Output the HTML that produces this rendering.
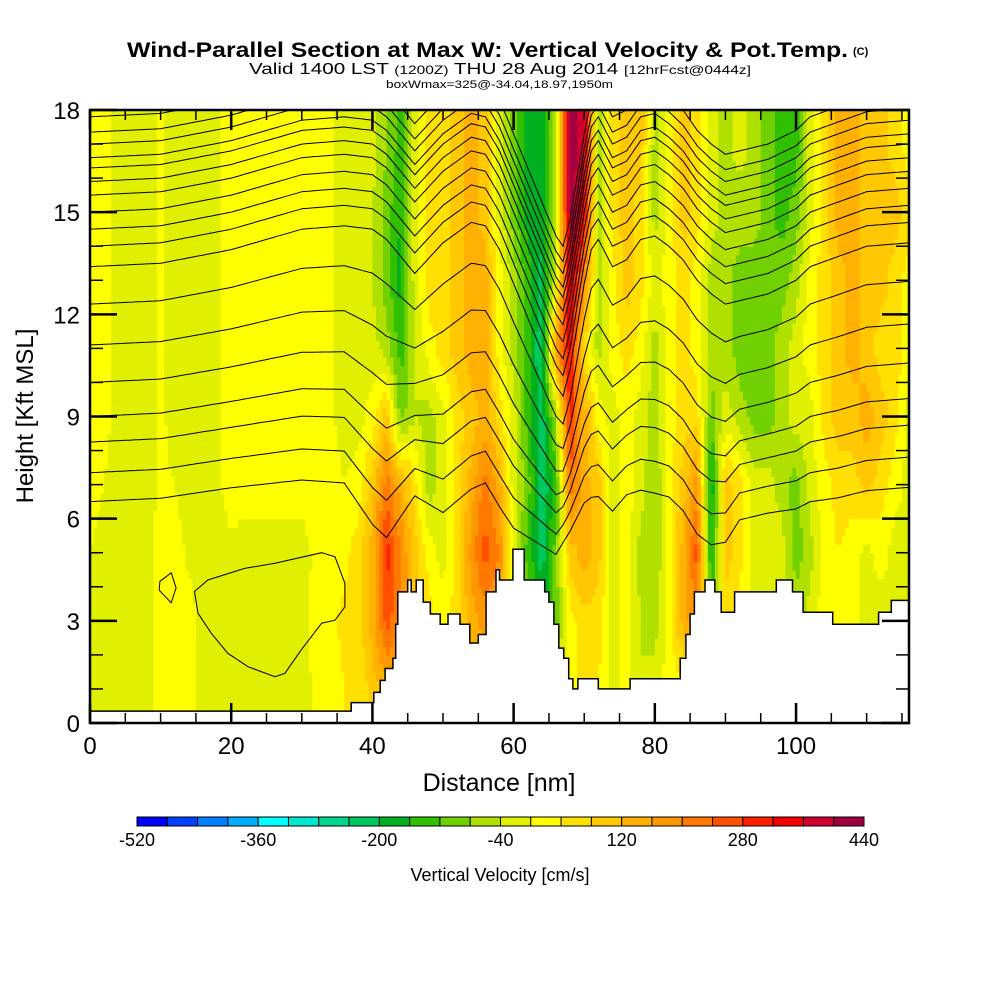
<!DOCTYPE html>
<html><head><meta charset="utf-8"><style>
html,body{margin:0;padding:0;background:#fff;}
svg{display:block;font-family:"Liberation Sans",sans-serif;}
</style></head><body>
<svg id="chart" width="1000" height="1000" viewBox="0 0 1000 1000" xmlns="http://www.w3.org/2000/svg">
<rect width="1000" height="1000" fill="#fff"/>
<g>
<text x="127" y="57" font-size="21" font-weight="bold" textLength="721" lengthAdjust="spacingAndGlyphs">Wind-Parallel Section at Max W: Vertical Velocity &amp; Pot.Temp.</text>
<text x="853" y="55" font-size="11" font-weight="bold">(C)</text>
</g>
<text x="249" y="74" font-size="16" textLength="502" lengthAdjust="spacingAndGlyphs">Valid 1400 LST <tspan font-size="12">(1200Z)</tspan> THU 28 Aug 2014 <tspan font-size="12">[12hrFcst@0444z]</tspan></text>
<text x="386" y="88" font-size="11" textLength="227" lengthAdjust="spacingAndGlyphs">boxWmax=325@-34.04,18.97,1950m</text>
<defs><clipPath id="plotclip"><rect x="90" y="110" width="819" height="613"/></clipPath></defs>
<g id="field" clip-path="url(#plotclip)"></g>
<g id="theta" clip-path="url(#plotclip)" fill="none" stroke="#000" stroke-width="1"></g>
<g id="terrain" clip-path="url(#plotclip)"></g>
<rect x="90" y="110" width="819" height="613" fill="none" stroke="#000" stroke-width="2.5"/>
<g id="axes" stroke="#000"></g>
<g id="ticklabels" font-size="24"></g>
<text x="499" y="791" font-size="25" text-anchor="middle">Distance [nm]</text>
<text transform="translate(33,416) rotate(-90)" font-size="24" text-anchor="middle">Height [Kft MSL]</text>
<g id="colorbar"></g>
<text x="500" y="881" font-size="18" text-anchor="middle">Vertical Velocity [cm/s]</text>
</svg>
<script>
// ---- data ----
const gridX = [0,2,4,6,8,10,12,14,16,18,20,22,24,26,28,30,32,34,36,38,40,42,44,46,48,50,52,54,56,58,60,62,64,66,68,70,72,74,76,78,80,82,84,86,88,90,92,94,96,98,100,102,104,106,108,110,112,114,116];
const gridH = [1,3,5,7,9,11,13,15,17];
const leftUpper = [20,10,-10,-20,-20,10,-20,-20,-20,-10,20,20,40,20,20,20,20,10,-20];
const w17 = leftUpper.concat([-20,-20,-80,-140,-20,60,60,100,140,100,-20,-100,-180,-180,-60,420,380,-60,60,100,100,-60,20,100,60,-20,-60,-20,-60,-100,-140,-140,-20,60,140,140,100,100,60,20]);
const w15 = leftUpper.concat([-20,-40,-100,-160,-20,60,60,100,140,100,-20,-100,-180,-180,-60,420,340,-60,60,100,60,-60,20,100,60,-20,-60,-60,-60,-100,-140,-100,-20,60,140,140,100,100,100,60]);
const w13 = leftUpper.concat([-20,-40,-100,-180,-20,60,60,100,140,140,20,-60,-140,-220,-20,380,200,-60,20,100,60,-20,20,60,20,-60,-60,-100,-100,-100,-100,-60,20,60,100,140,100,100,60,20]);
const w11 = leftUpper.concat([-20,-20,-60,-140,-40,20,60,100,140,140,20,-60,-140,-240,180,340,60,-60,20,60,20,-60,20,60,20,-60,-60,-100,-100,-100,-60,-20,20,60,100,140,100,60,60,20]);
const w9 = leftUpper.concat([-20,20,100,-100,-40,-60,-20,60,100,140,60,-20,-140,-220,-60,300,140,20,-20,20,-20,-60,20,60,60,-100,-20,-60,-100,-100,-60,-20,-20,60,100,100,140,100,60,-20]);
const w7 = [20,0,-20,-20,-20,10,0,-20,-20,-10,20,20,20,20,20,20,20,20,0].concat([20,100,220,140,60,-60,-20,60,140,220,140,-20,-100,-240,-140,220,140,100,-20,20,-20,-80,20,100,180,-200,100,60,-20,-20,-60,-100,-20,20,60,60,100,60,20,-20]);
const w5 = [0,-20,-20,-20,-10,10,20,-10,-20,-20,-10,-20,-20,-20,-20,-20,10,20,30].concat([60,140,300,200,100,20,-20,60,180,260,200,-20,-140,-220,-100,100,140,100,-20,20,-60,-80,20,140,260,-180,100,60,-20,-20,-20,-100,-60,20,40,20,-20,20,-20,-20]);
const w3 = [-10,-20,-20,-20,-10,10,20,20,-20,-20,-20,-20,-20,-20,-20,-20,20,30,50].concat([60,140,260,200,100,60,20,60,140,180,140,20,-60,-180,-100,20,60,60,-20,20,-40,-60,20,140,200,-100,60,20,-20,-20,-20,-60,-20,20,20,20,-20,-20,-20,-20]);
const w1 = [-10,-20,-20,-20,-10,10,20,20,-20,-20,-20,-10,-20,-20,-20,-20,10,20,40].concat([40,100,140,100,60,40,20,60,100,140,100,20,-40,-60,-20,20,60,40,-20,20,-40,-20,20,20,20,20,20,20,20,20,20,20,20,20,20,20,20,20,20,20]);
const wRows = [w1,w3,w5,w7,w9,w11,w13,w15,w17];
const levelColors = ["#0000ff","#0040ff","#0080ff","#00b0ff","#00ffff","#00e8d0","#00d890","#00c860","#00b020","#30c000","#70d000","#b0e000","#e0f000","#ffff00","#ffe000","#ffc800","#ffb000","#ff9800","#ff7800","#ff5000","#ff2000","#f00000","#d00030","#a00040"];
const cbLabels = [-520,-360,-200,-40,120,280,440];
const thetaBase = [17.8,17.35,17.0,16.6,16.3,15.9,15.5,15.0,14.5,14.0,13.4,12.3,11.1,10.0,9.0,8.25,7.35,6.5];
const dispX = [0,10,20,30,36,40,42,44,46,50,54,56,58,60,62,64,66,67,68,70,71,72,74,76,78,80,82,84,86,88,90,92,96,100,102,106,110,116];
const dispUpper = [0,0.1,0.5,1.1,1.2,1.1,0.8,0.3,-0.2,0.7,1.3,1.2,0.5,-0.5,-1.5,-2.5,-3.5,-3.8,-3.0,-0.5,0.5,0.8,0,0.2,0.8,0.9,0.6,0.2,-0.4,-0.8,-1.1,-1.0,-0.8,-0.4,0,0.3,0.6,0.7];
const dispLower = [0,0.1,0.4,0.6,0.5,-0.8,-1.2,-0.5,0.2,-0.4,0.3,0.5,-0.2,-0.8,-1.0,-1.2,-1.4,-1.0,-0.7,0,0.1,0.1,-0.3,0.2,0.3,0.2,0.1,-0.3,-1.0,-1.3,-1.2,-0.5,-0.3,-0.2,0,0.1,0.3,0.4];
const loopBigX = [14.8,16.7,21.9,26.2,32.8,34.7,36.1,36.1,34.7,32.8,29.9,27.6,26.2,22.4,19.5,17.2,15.3];
const loopBigH = [3.86,4.2,4.54,4.69,5.0,4.88,4.1,3.41,3.02,2.93,2.14,1.46,1.36,1.65,2.05,2.63,3.22];
const loopSmallX = [9.9,11.5,12.2,11.5,9.8];
const loopSmallH = [4.16,4.41,3.97,3.53,3.9];
const terrainX = [0,37.0,40.2,41.1,41.8,42.9,43.3,43.6,45.0,45.5,46.2,47.2,48.2,49.6,50.7,52.4,53.8,55.0,56.1,57.5,58.0,59.9,61.5,64.4,65.0,65.7,66.4,67.1,67.8,68.4,69.1,72.0,76.5,83.6,84.4,85.0,85.6,86.4,87.1,88.5,89.4,91.3,97.2,99.5,101.0,105.2,111.7,113.5];
const terrainH = [0.35,0.6,0.9,1.25,1.6,1.9,2.9,3.85,4.2,3.85,4.2,3.55,3.2,2.9,3.2,2.9,2.35,2.6,3.85,4.5,4.2,5.1,4.2,3.85,3.55,2.9,2.2,1.9,1.3,1.0,1.3,1.0,1.3,1.9,2.6,3.2,3.85,3.85,4.2,3.85,3.25,3.85,4.2,3.85,3.25,2.9,3.25,3.6];
const xTicks = [0,20,40,60,80,100];
const yTicks = [0,3,6,9,12,15,18];

// ---- axes ----
const NS = "http://www.w3.org/2000/svg";
const X = nm => 90 + nm * 819 / 116;
const Y = h => 723 - h * 613 / 18;
function mk(tag, attrs, parent){const e=document.createElementNS(NS,tag);for(const k in attrs)e.setAttribute(k,attrs[k]);parent.appendChild(e);return e;}
function interp(xs, ys, x){if(x<=xs[0])return ys[0];for(let i=1;i<xs.length;i++){if(x<=xs[i]){const t=(x-xs[i-1])/(xs[i]-xs[i-1]);return ys[i-1]+t*(ys[i]-ys[i-1]);}}return ys[ys.length-1];}
function wAt(nm,h){
  const hc=Math.max(gridH[0],Math.min(gridH[gridH.length-1],h));
  let j=Math.min(gridH.length-2,Math.floor((hc-gridH[0])/2));
  const t=(hc-gridH[j])/2;
  const a=interp(gridX,wRows[j],nm), b=interp(gridX,wRows[j+1],nm);
  return a+t*(b-a);
}
function colorOf(v){let i=Math.floor((v+520)/40);i=Math.max(0,Math.min(23,i));return levelColors[i];}

// field
const field=document.getElementById('field');
const dx=0.5, dh=0.25;
for(let h=0;h<18;h+=dh){
  let runStart=0,runCol=null;
  for(let nm=0;nm<=116+1e-9;nm+=dx){
    const c = nm<116 ? colorOf(wAt(nm+dx/2,h+dh/2)) : null;
    if(c!==runCol){
      if(runCol!==null){
        const r=mk('rect',{x:X(runStart).toFixed(2),y:Y(h+dh).toFixed(2),width:(X(nm)-X(runStart)+0.6).toFixed(2),height:(Y(h)-Y(h+dh)+0.6).toFixed(2),fill:runCol},field);
        
        
      }
      runStart=nm;runCol=c;
    }
  }
}

// theta contours
const theta=document.getElementById('theta');
thetaBase.forEach((b)=>{
  const wgt=Math.max(0,Math.min(1,(b-6)/7));
  let d='';
  for(let nm=0;nm<=116;nm+=0.5){
    const disp=wgt*interp(dispX,dispUpper,nm)+(1-wgt)*interp(dispX,dispLower,nm);
    d+=(nm===0?'M':'L')+X(nm).toFixed(1)+','+Y(b+disp).toFixed(1);
  }
  const p=mk('path',{d:d},theta);
  
  
});
[[loopBigX,loopBigH],[loopSmallX,loopSmallH]].forEach(([xs,hs])=>{
  let d='';xs.forEach((x,i)=>{d+=(i?'L':'M')+X(x).toFixed(1)+','+Y(hs[i]).toFixed(1);});d+='Z';
  const p=mk('path',{d:d},theta);
  
  
});

// terrain
const ter=document.getElementById('terrain');
let td='M'+X(0)+','+Y(-1);
for(let i=0;i<terrainX.length;i++){
  const x0=terrainX[i], x1=(i+1<terrainX.length)?terrainX[i+1]:117;
  td+='L'+X(x0).toFixed(1)+','+Y(terrainH[i]).toFixed(1)+'L'+X(x1).toFixed(1)+','+Y(terrainH[i]).toFixed(1);
}
td+='L'+X(117)+','+Y(-1)+'Z';
const tp=mk('path',{d:td,fill:'#fff',stroke:'#000','stroke-width':'1.5'},ter);



// ticks
const axes=document.getElementById('axes'), tl=document.getElementById('ticklabels');
for(let nm=0;nm<=116;nm+=5){
  const major=nm%20===0, L=major?20:10;
  const t1=mk('line',{x1:X(nm),x2:X(nm),y1:723,y2:723-L,'stroke-width':major?2.5:1.5},axes);
  
  
  const t2=mk('line',{x1:X(nm),x2:X(nm),y1:110,y2:110+L,'stroke-width':major?2.5:1.5},axes);
  
  
}
for(let h=0;h<=18;h+=1){
  const major=h%3===0, L=major?27:13;
  const t1=mk('line',{x1:90,x2:90+L,y1:Y(h),y2:Y(h),'stroke-width':major?2.5:1.5},axes);
  
  
  const t2=mk('line',{x1:909,x2:909-L,y1:Y(h),y2:Y(h),'stroke-width':major?2.5:1.5},axes);
  
  
}
xTicks.forEach(v=>{
  const t=mk('text',{x:X(v),y:754,'text-anchor':'middle'},tl);t.textContent=v;
  
  
});
yTicks.forEach(v=>{
  const t=mk('text',{x:80,y:Y(v)+9,'text-anchor':'end'},tl);t.textContent=v;
  
  
});

// colorbar
const cb=document.getElementById('colorbar');
const cbX0=137, cbX1=864, cbW=(cbX1-cbX0)/levelColors.length;
levelColors.forEach((c,i)=>{
  const r=mk('rect',{x:(cbX0+i*cbW).toFixed(2),y:817,width:cbW.toFixed(2),height:9,fill:c,stroke:'#000','stroke-width':1},cb);
  
  
});
cbLabels.forEach(v=>{
  const t=mk('text',{x:(cbX0+(v+520)/40*cbW).toFixed(1),y:846,'text-anchor':'middle','font-size':18},cb);t.textContent=v;
  
  
});
</script>
</body></html>
